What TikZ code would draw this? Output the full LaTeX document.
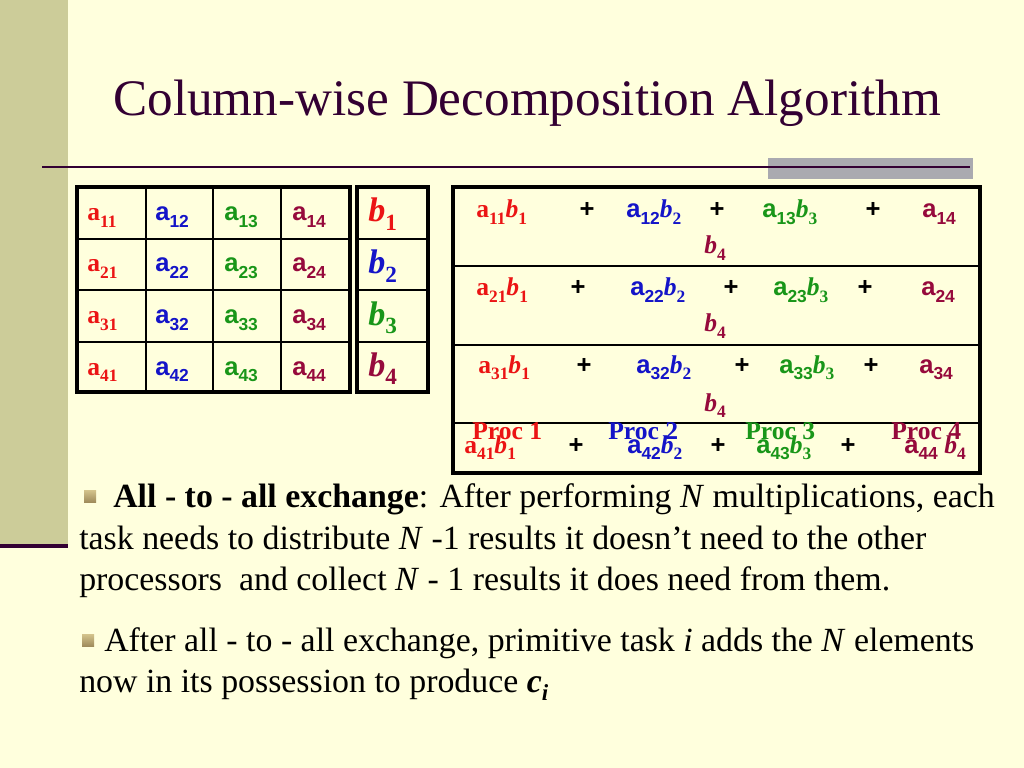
\documentclass[tikz,border=0pt]{standalone}
\usepackage{fontspec}
\usepackage{graphicx}
\setmainfont{Liberation Serif}
\setsansfont{Liberation Sans}
\usetikzlibrary{positioning}

\definecolor{slidebg}{RGB}{255,255,221}
\definecolor{bandolive}{RGB}{204,204,153}
\definecolor{titlepurple}{RGB}{51,0,51}
\definecolor{rulegray}{RGB}{170,170,176}
\definecolor{colred}{RGB}{235,20,20}
\definecolor{colblue}{RGB}{20,20,200}
\definecolor{colgreen}{RGB}{25,150,25}
\definecolor{colmaroon}{RGB}{150,10,60}
\definecolor{bulletlight}{RGB}{212,196,140}
\definecolor{bulletdark}{RGB}{160,140,92}

% low subscript; a with subscript, serif or sans; b with subscript
\newcommand{\lo}[1]{\raisebox{-0.24em}{\scalebox{0.68}{#1}}}
\newcommand{\aser}[1]{a\lo{#1}}
\newcommand{\asan}[1]{{\sffamily a\lo{#1}}}
\newcommand{\bvec}[1]{\textit{b}\lo{#1}}

\tikzset{
  cell/.style={anchor=base west, inner sep=0pt, font=\fontsize{18}{21}\selectfont\bfseries},
  vecb/.style={anchor=base west, inner sep=0pt, font=\fontsize{24}{28}\selectfont\bfseries},
  plus/.style={anchor=base, inner sep=0pt, black, font=\fontsize{18}{21}\selectfont\sffamily\bfseries},
  body/.style={anchor=base west, inner sep=0pt, black, font=\fontsize{23.8}{29}\selectfont},
  thickframe/.style={line width=2.2pt},
  thinrule/.style={line width=0.9pt},
}

\begin{document}
\begin{tikzpicture}[x=0.703125pt, y=-0.703125pt]
\useasboundingbox (0,0) rectangle (1024,768);
% Background
\fill[slidebg] (0,0) rectangle (1024,768);
\fill[bandolive] (0,0) rectangle (68,544);
\fill[titlepurple] (0,544) rectangle (68,548);
\fill[rulegray] (768,158) rectangle (973,179);
\draw[titlepurple, line width=1.6pt] (42,167) -- (970,167);
% Title
\draw (113,116) node[anchor=base west, inner sep=0pt, titlepurple, font=\fontsize{36}{40}\selectfont] (title) {Column-wise Decomposition Algorithm};

% Lines
\draw[thinrule] (146,187) -- (146,392);
\draw[thinrule] (213,187) -- (213,392);
\draw[thinrule] (281,187) -- (281,392);
\draw[thinrule] (77,239) -- (350,239);
\draw[thinrule] (77,290) -- (350,290);
\draw[thinrule] (77,342) -- (350,342);
\draw[thickframe] (77,187) rectangle (350,392);
\draw[thinrule] (357,239) -- (428,239);
\draw[thinrule] (357,290) -- (428,290);
\draw[thinrule] (357,342) -- (428,342);
\draw[thickframe] (357,187) rectangle (428,392);
\draw[thinrule] (453,266) -- (980,266);
\draw[thinrule] (453,345) -- (980,345);
\draw[thinrule] (453,423) -- (980,423);
\draw[thickframe] (453,187) rectangle (980,473);

% Nodes
\draw (87,221) node[cell, colred] (a11) {\aser{11}};
\draw (155,221) node[cell, colblue] (a12) {\asan{12}};
\draw (224,221) node[cell, colgreen] (a13) {\asan{13}};
\draw (292,221) node[cell, colmaroon] (a14) {\asan{14}};
\draw (87,272) node[cell, colred] (a21) {\aser{21}};
\draw (155,272) node[cell, colblue] (a22) {\asan{22}};
\draw (224,272) node[cell, colgreen] (a23) {\asan{23}};
\draw (292,272) node[cell, colmaroon] (a24) {\asan{24}};
\draw (87,324) node[cell, colred] (a31) {\aser{31}};
\draw (155,324) node[cell, colblue] (a32) {\asan{32}};
\draw (224,324) node[cell, colgreen] (a33) {\asan{33}};
\draw (292,324) node[cell, colmaroon] (a34) {\asan{34}};
\draw (87,375) node[cell, colred] (a41) {\aser{41}};
\draw (155,375) node[cell, colblue] (a42) {\asan{42}};
\draw (224,375) node[cell, colgreen] (a43) {\asan{43}};
\draw (292,375) node[cell, colmaroon] (a44) {\asan{44}};
\draw (368,222) node[vecb, colred] (b1) {\bvec{1}};
\draw (368,274) node[vecb, colblue] (b2) {\bvec{2}};
\draw (368,325) node[vecb, colgreen] (b3) {\bvec{3}};
\draw (368,376) node[vecb, colmaroon] (b4) {\bvec{4}};

% Products, row 1
\draw (476,218) node[cell, colred] (r1t1) {\aser{11}\bvec{1}};
\draw (587,218) node[plus] (r1p1) {+};
\draw (626,218) node[cell, colblue] (r1t2) {\asan{12}\bvec{2}};
\draw (717,218) node[plus] (r1p2) {+};
\draw (762,218) node[cell, colgreen] (r1t3) {\asan{13}\bvec{3}};
\draw (873,218) node[plus] (r1p3) {+};
\draw (922,218) node[cell, colmaroon] (r1t4) {\asan{14}};
\draw (704,254) node[cell, colmaroon] (r1b4) {\bvec{4}};
% Products, row 2
\draw (476,296) node[cell, colred] (r2t1) {\aser{21}\bvec{1}};
\draw (578,296) node[plus] (r2p1) {+};
\draw (630,296) node[cell, colblue] (r2t2) {\asan{22}\bvec{2}};
\draw (731,296) node[plus] (r2p2) {+};
\draw (773,296) node[cell, colgreen] (r2t3) {\asan{23}\bvec{3}};
\draw (865,296) node[plus] (r2p3) {+};
\draw (921,296) node[cell, colmaroon] (r2t4) {\asan{24}};
\draw (704,332) node[cell, colmaroon] (r2b4) {\bvec{4}};
% Products, row 3
\draw (478,373) node[cell, colred] (r3t1) {\aser{31}\bvec{1}};
\draw (584,373) node[plus] (r3p1) {+};
\draw (636,373) node[cell, colblue] (r3t2) {\asan{32}\bvec{2}};
\draw (742,373) node[plus] (r3p2) {+};
\draw (779,373) node[cell, colgreen] (r3t3) {\asan{33}\bvec{3}};
\draw (871,373) node[plus] (r3p3) {+};
\draw (919,373) node[cell, colmaroon] (r3t4) {\asan{34}};
\draw (704,411) node[cell, colmaroon] (r3b4) {\bvec{4}};
% Products, row 4
\draw (464,453) node[cell, colred] (r4t1) {\aser{41}\bvec{1}};
\draw (576,453) node[plus] (r4p1) {+};
\draw (627,453) node[cell, colblue] (r4t2) {\asan{42}\bvec{2}};
\draw (718,453) node[plus] (r4p2) {+};
\draw (756,453) node[cell, colgreen] (r4t3) {\asan{43}\bvec{3}};
\draw (848,453) node[plus] (r4p3) {+};
\draw (904,453) node[cell, colmaroon] (r4t4) {\asan{44} \bvec{4}};
% Processors
\draw (472,439) node[cell, colred] (proc1) {Proc 1};
\draw (608,439) node[cell, colblue] (proc2) {Proc 2};
\draw (745,439) node[cell, colgreen] (proc3) {Proc 3};
\draw (891,439) node[cell, colmaroon] (proc4) {Proc 4};

% Bullets
\shade[top color=bulletlight, bottom color=bulletdark] (84,490) rectangle (96,502);
\shade[top color=bulletlight, bottom color=bulletdark] (82,634) rectangle (94,646);
\draw (113,507) node[body] (line1) {\textbf{All - to - all exchange}: After performing \textit{N} multiplications, each};
\draw (79,549) node[body] (line2) {task needs to distribute \textit{N} -1 results it doesn’t need to the other};
\draw (79,590) node[body] (line3) {processors\ \ and collect \textit{N} - 1 results it does need from them.};
\draw (104,651) node[body] (line4) {After all - to - all exchange, primitive task \textit{i} adds the \textit{N} elements};
\draw (79,692) node[body] (line5) {now in its possession to produce \textbf{\textit{c\lo{i}}}};
\end{tikzpicture}
\end{document}
